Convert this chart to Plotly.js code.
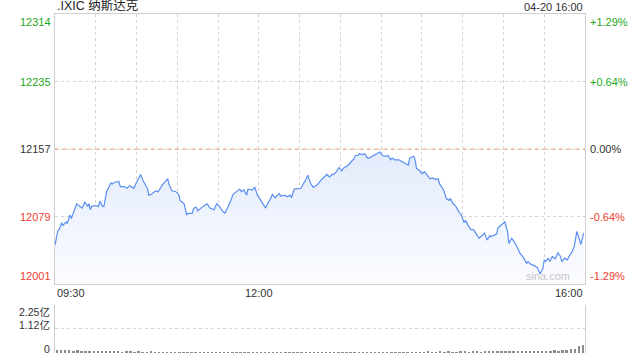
<!DOCTYPE html>
<html>
<head>
<meta charset="utf-8">
<script src="https://cdn.plot.ly/plotly-3.0.1.min.js"></script>
<style>html,body{margin:0;padding:0;background:#fff;}#chart{width:640px;height:360px;}</style>
</head>
<body>
<div id="chart"></div>
<script>
// ---- data ----
const titleText = ".IXIC 纳斯达克";
const stampText = "04-20 16:00";
const prevClose = 12157.5;
const priceLow = 12001;
const priceHigh = 12314;
const leftLabels = ["12001", "12079", "12157", "12235", "12314"];
const rightLabels = ["-1.29%", "-0.64%", "0.00%", "+0.64%", "+1.29%"];
const timeTickMinutes = [0, 150, 390];
const timeTickLabels = ["09:30", "12:00", "16:00"];
const volTickVals = [0, 1.125, 2.25];
const volTickLabels = ["0", "1.12亿", "2.25亿"];

// minutes after 09:30
const priceMinutes = [0,2,3,5,6,8,9,11,12,14,16,18,20,22,24,25,26,27,30,32,33,35,36,38,41,42,44,47,48,51,53,55,58,60,63,65,68,69,71,74,76,79,81,83,84,86,89,91,92,95,96,97,98,101,102,104,105,107,109,112,114,117,119,121,123,125,127,129,131,134,136,137,139,141,142,145,147,149,151,154,155,157,158,160,162,165,166,169,171,173,174,176,179,181,183,184,186,188,190,191,193,195,198,200,202,204,205,207,209,211,212,214,216,218,220,221,223,224,226,228,230,231,233,235,237,239,241,243,245,247,248,250,253,255,258,260,261,264,265,266,268,270,272,274,276,278,280,282,283,286,288,290,291,293,295,297,299,301,302,304,306,308,310,312,314,316,318,320,321,323,325,326,329,331,333,334,336,338,340,342,345,347,348,350,353,355,356,357,359,360,361,363,364,366,368,370,372,373,375,377,379,380,382,384,386,387,389];
const prices = [12046,12062,12064,12072,12069,12073,12071,12081,12077,12085,
12094,12091,12089,12096,12091,12094,12087,12091,12092,12091,
12097,12091,12091,12108,12118,12117,12119,12120,12114,12114,
12112,12115,12112,12119,12128,12120,12112,12104,12105,12109,
12108,12116,12120,12123,12116,12109,12108,12105,12098,12094,
12087,12081,12083,12083,12089,12090,12086,12089,12091,12094,
12089,12087,12094,12091,12086,12083,12089,12096,12105,12108,
12111,12108,12110,12104,12111,12110,12113,12104,12099,12093,
12089,12096,12098,12105,12101,12106,12103,12104,12102,12104,
12101,12111,12112,12112,12118,12120,12127,12118,12113,12114,
12116,12120,12125,12128,12125,12128,12128,12131,12136,12132,
12135,12137,12139,12143,12146,12150,12150,12152,12151,12152,
12147,12147,12149,12151,12152,12154,12150,12149,12150,12145,
12147,12145,12145,12143,12141,12139,12147,12149,12145,12135,
12133,12129,12131,12127,12123,12124,12122,12123,12117,12110,
12100,12098,12100,12094,12091,12085,12081,12072,12075,12069,
12064,12064,12059,12054,12057,12060,12052,12057,12056,12058,
12059,12066,12070,12073,12062,12048,12054,12050,12044,12037,
12031,12025,12027,12024,12022,12020,12016,12013,12019,12029,
12027,12031,12027,12033,12030,12037,12033,12027,12031,12029,
12035,12037,12044,12062,12052,12047,12060];

// volume per 3-minute bin, in 亿
const volumes = [0.15,0.13,0.12,0.13,0.11,0.12,0.10,0.11,0.10,0.10,
0.09,0.08,0.09,0.08,0.09,0.08,0.07,0.08,0.08,0.07,0.08,0.07,0.07,0.08,0.07,0.07,0.06,0.07,0.07,0.06,
0.06,0.05,0.06,0.06,0.05,0.06,0.05,0.06,0.05,0.05,0.06,0.05,0.05,0.05,0.06,0.05,0.05,0.06,0.05,0.05,
0.05,0.05,0.05,0.06,0.05,0.05,0.05,0.04,0.05,0.05,0.05,0.06,0.05,0.05,0.05,0.06,0.05,0.05,0.06,0.05,
0.06,0.05,0.06,0.06,0.05,0.06,0.06,0.06,0.07,0.06,0.06,0.07,0.06,0.07,0.06,0.07,0.07,0.06,0.07,0.07,
0.07,0.08,0.07,0.07,0.08,0.07,0.08,0.07,0.07,0.08,0.08,0.07,0.08,0.08,0.07,0.08,0.08,0.09,0.08,0.08,
0.09,0.08,0.09,0.09,0.08,0.09,0.09,0.10,0.09,0.09,0.10,0.10,0.12,0.11,0.14,0.13,0.19,0.20,0.33,0.37];
const volBinMinutes = 3;

// ---- styling ----
const FONT = "'Liberation Sans', Arial, 'Noto Sans CJK SC', sans-serif";
const GREEN = "#1ea81e";
const RED = "#f2402f";
const GRID = "#d4d4d4";
const BORDER = "#cfcfcf";

const span = priceHigh - priceLow;
const levels = [0,1,2,3,4].map(i => priceLow + span * i / 4);
const volX = volumes.map((_, i) => i * volBinMinutes + volBinMinutes / 2);

const traces = [
  {
    x: priceMinutes, y: prices, type: "scatter", mode: "lines",
    line: {color: "#5b8ff0", width: 1.2},
    fill: "tozeroy",
    fillgradient: {type: "vertical", start: priceLow, stop: prevClose,
      colorscale: [[0, "rgba(251,252,255,1)"], [1, "rgba(226,235,251,1)"]]},
    xaxis: "x", yaxis: "y", hoverinfo: "skip"
  },
  {
    x: volX, y: volumes, type: "bar", width: 1.8,
    marker: {color: "#8c8c8c", line: {width: 0}},
    xaxis: "x2", yaxis: "y2", hoverinfo: "skip"
  }
];

const annotations = [];
function ann(o) { annotations.push(Object.assign({showarrow: false, font: {family: FONT, size: 11, color: "#333"}}, o)); }

ann({xref: "paper", yref: "paper", x: 0, y: 1, xanchor: "left", yanchor: "bottom", yshift: -1,
     text: titleText, font: {family: FONT, size: 12.5, color: "#222"}});
ann({xref: "paper", yref: "paper", x: 1, y: 1, xanchor: "right", yanchor: "bottom", yshift: -1,
     text: stampText, font: {family: FONT, size: 11, color: "#333"}});

const labelColors = [RED, RED, "#333", GREEN, GREEN];
const anchors = ["bottom", "middle", "middle", "middle", "top"];
levels.forEach((lv, i) => {
  ann({xref: "paper", yref: "y", x: 0, y: lv, xanchor: "right", yanchor: anchors[i], xshift: -2,
       text: leftLabels[i], font: {family: FONT, size: 11, color: labelColors[i]}});
  ann({xref: "paper", yref: "y", x: 1, y: lv, xanchor: "left", yanchor: anchors[i], xshift: 3,
       text: rightLabels[i], font: {family: FONT, size: 11, color: labelColors[i]}});
});

const xAnch = ["left", "center", "right"];
timeTickMinutes.forEach((m, i) => {
  ann({xref: "x", yref: "paper", x: m, y: 0.2035, xanchor: xAnch[i], yanchor: "top", yshift: -1,
       text: timeTickLabels[i], font: {family: FONT, size: 11, color: "#333"}});
});

// label centre offsets relative to each volume gridline (pixels, + is up)
const volShift = [4, 4, -7.5];
volTickVals.forEach((v, i) => {
  ann({xref: "paper", yref: "y2", x: 0, y: v, xanchor: "right", yanchor: "middle", xshift: -3, yshift: volShift[i],
       text: volTickLabels[i], font: {family: FONT, size: 10.5, color: "#333"}});
});

ann({xref: "paper", yref: "y", x: 0.975, y: priceLow, xanchor: "right", yanchor: "bottom", yshift: 0,
     text: "sina.com", font: {family: FONT, size: 11, color: "#c8c8c8"}});

const layout = {
  width: 640, height: 360,
  margin: {l: 55, r: 55, t: 14, b: 7},
  paper_bgcolor: "#fff", plot_bgcolor: "#fff",
  showlegend: false,
  xaxis: {domain: [0, 1], range: [0, 390], anchor: "y",
    tickvals: [0,30,60,90,120,150,180,210,240,270,300,330,360,390], showticklabels: false, ticks: "",
    showgrid: true, gridcolor: GRID, griddash: "dot", gridwidth: 1,
    showline: true, mirror: true, linecolor: BORDER, linewidth: 1, zeroline: false},
  yaxis: {domain: [0.2035, 1], range: [priceLow, priceHigh], anchor: "x",
    tickvals: levels, showticklabels: false, ticks: "",
    showgrid: true, gridcolor: GRID, griddash: "dot", gridwidth: 1,
    showline: true, mirror: true, linecolor: BORDER, linewidth: 1, zeroline: false},
  xaxis2: {domain: [0, 1], range: [0, 390], anchor: "y2",
    showticklabels: false, ticks: "", showgrid: false, showline: false, zeroline: false},
  yaxis2: {domain: [0, 0.1416], range: [0, 2.25], anchor: "x2",
    tickvals: [1.125, 2.25], showticklabels: false, ticks: "",
    showgrid: true, gridcolor: GRID, griddash: "dot", gridwidth: 1,
    showline: true, mirror: true, linecolor: BORDER, linewidth: 1, zeroline: false},
  bargap: 0,
  shapes: [
    {type: "line", xref: "x", yref: "y", x0: 0, x1: 390, y0: prevClose, y1: prevClose,
     line: {color: "#f2a375", width: 1, dash: "4px,4px"}, layer: "above"}
  ],
  annotations: annotations
};

Plotly.newPlot("chart", traces, layout, {displayModeBar: false, staticPlot: true});
</script>
</body>
</html>
